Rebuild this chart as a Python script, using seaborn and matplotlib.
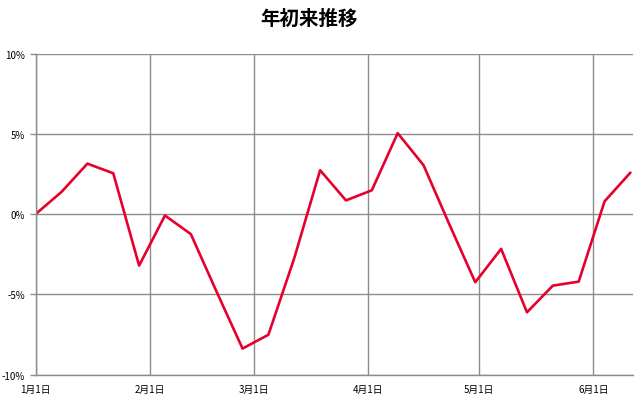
import matplotlib
matplotlib.use("Agg")
import matplotlib.pyplot as plt
import matplotlib.dates as mdates
from matplotlib.ticker import FuncFormatter, MultipleLocator
import seaborn as sns
import pandas as pd
import numpy as np

# data
start_date = "2023-01-01"
n_weeks = 24
returns_pct = [0.0, 1.38, 3.14, 2.54, -3.21, -0.09, -1.25, -4.85, -8.38, -7.52,
               -2.75, 2.73, 0.85, 1.48, 5.04, 3.04, -0.65, -4.25, -2.17, -6.12,
               -4.46, -4.21, 0.79, 2.58]
title = "年初来推移"

dates = pd.date_range(start_date, periods=n_weeks, freq="7D")
df = pd.DataFrame({"date": dates, "ret": np.array(returns_pct) / 100.0})

sns.set_theme(style="white")
plt.rcParams["font.family"] = ["Noto Sans CJK JP", "DejaVu Sans"]

fig = plt.figure(figsize=(6.36, 4.10), dpi=100)
ax = fig.add_axes([0.0561, 0.084, 0.9385, 0.783])

sns.lineplot(data=df, x="date", y="ret", ax=ax, color="#E6002D", linewidth=1.9)

ax.set_xlim(pd.Timestamp("2023-01-01"), pd.Timestamp("2023-06-11 14:00"))
ax.set_ylim(-0.10, 0.10)
ax.yaxis.set_major_locator(MultipleLocator(0.05))
ax.yaxis.set_major_formatter(FuncFormatter(lambda v, p: f"{round(v*100):d}%"))
ax.xaxis.set_major_locator(mdates.MonthLocator())
ax.xaxis.set_major_formatter(FuncFormatter(
    lambda v, p: f"{mdates.num2date(v).month}月{mdates.num2date(v).day}日"))

ax.grid(True, color="#8c8c8c", linewidth=1.0)
ax.set_axisbelow(True)
for s in ["top", "right"]:
    ax.spines[s].set_visible(False)
for s in ["left", "bottom"]:
    ax.spines[s].set_color("#8c8c8c")
    ax.spines[s].set_linewidth(1.0)
ax.tick_params(axis="y", which="major", left=True, length=4.5, width=1.0,
               color="#8c8c8c", labelsize=7, labelcolor="#000000",
               direction="out", pad=3)
ax.tick_params(axis="x", which="major", bottom=True, length=0,
               labelsize=7, labelcolor="#000000", pad=7)
ax.set_xlabel("")
ax.set_ylabel("")

fig.text(0.486, 0.953, title, ha="center", va="center", fontsize=14,
         fontweight="bold", color="#000000")

fig.savefig("out.png", dpi=100, facecolor="white")
